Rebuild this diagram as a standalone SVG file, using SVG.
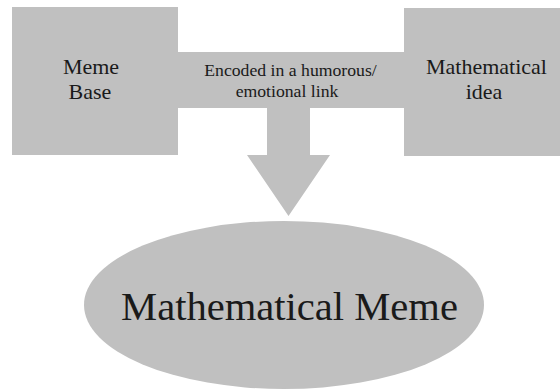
<svg xmlns="http://www.w3.org/2000/svg" width="560" height="392" viewBox="0 0 560 392">
  <style>
    .shape { fill: #c0c0c0; stroke: none; }
    .lbl { font-family: 'Liberation Serif', 'Times New Roman', serif; fill: #1a1a1a; text-anchor: middle; }
    .box { font-size: 22px; }
    .link { font-size: 17.7px; }
    .big { font-size: 40.6px; }
  </style>
  <rect width="560" height="392" fill="#ffffff"/>
  <g id="connectors">
    <path class="shape" d="M176,52 H406 V108 H310 V155 H330 L288.5,216 L247,155 H267 V108 H176 Z"/>
    <text class="lbl link" x="290.5" y="76">Encoded in a humorous/</text>
    <text class="lbl link" x="287" y="97">emotional link</text>
  </g>
  <g id="meme-base">
    <rect class="shape" x="12" y="7" width="166" height="148"/>
    <text class="lbl box" x="91" y="74">Meme</text>
    <text class="lbl box" x="90" y="99">Base</text>
  </g>
  <g id="mathematical-idea">
    <rect class="shape" x="404" y="8" width="156" height="148"/>
    <text class="lbl box" x="486.5" y="74">Mathematical</text>
    <text class="lbl box" x="484" y="99">idea</text>
  </g>
  <g id="mathematical-meme">
    <ellipse class="shape" cx="284" cy="305" rx="200" ry="84"/>
    <text class="lbl big" x="289.5" y="320">Mathematical Meme</text>
  </g>
</svg>
